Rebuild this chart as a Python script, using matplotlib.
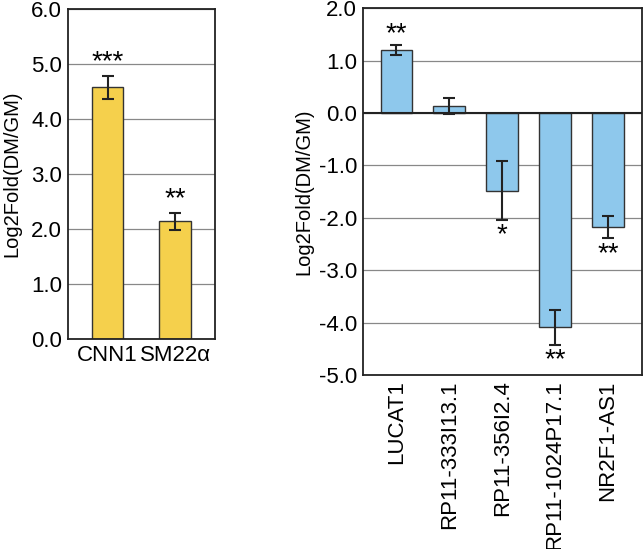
import matplotlib
matplotlib.use("Agg")
import matplotlib.pyplot as plt

plt.rcParams['font.family'] = ['Liberation Sans', 'DejaVu Sans']

# left panel data
left_genes = ['CNN1', 'SM22\u03b1']
left_vals = [4.58, 2.14]
left_err = [0.21, 0.16]
left_stars = ['***', '**']

# right panel data
right_genes = ['LUCAT1', 'RP11-333I13.1', 'RP11-356I2.4', 'RP11-1024P17.1', 'NR2F1-AS1']
right_vals = [1.20, 0.14, -1.48, -4.09, -2.18]
right_err = [0.10, 0.15, 0.56, 0.33, 0.21]
right_stars = ['**', '', '*', '**', '**']

yellow = '#F5D04C'
blue = '#8EC8EC'
edge = '#333333'

fig = plt.figure(figsize=(6.43, 5.49), dpi=100)
ax1 = fig.add_axes([0.1053, 0.3825, 0.229, 0.6005])
ax2 = fig.add_axes([0.564, 0.317, 0.434, 0.668])


def style_axis(ax, ylim, ticks, pad):
    ax.set_ylim(*ylim)
    ax.set_yticks(ticks)
    ax.set_yticklabels([f"{t:.1f}" for t in ticks], fontsize=16)
    ax.yaxis.grid(True, color='#888888', linewidth=0.9)
    ax.set_axisbelow(True)
    ax.tick_params(length=0, pad=4)
    for s in ax.spines.values():
        s.set_color('#222222')
        s.set_linewidth(1.3)
    ax.set_ylabel('Log2Fold(DM/GM)', fontsize=14.5, labelpad=pad)


# left
x1 = range(len(left_genes))
ax1.bar(x1, left_vals, width=0.47, color=yellow, edgecolor=edge, linewidth=1.0,
        yerr=left_err, error_kw=dict(ecolor='#222222', elinewidth=1.5, capsize=4, capthick=1.5))
style_axis(ax1, (0, 6), [0, 1, 2, 3, 4, 5, 6], 7)
ax1.set_xlim(-0.59, 1.59)
ax1.set_xticks(list(x1))
ax1.set_xticklabels(left_genes, fontsize=16)
for i, (v, e, s) in enumerate(zip(left_vals, left_err, left_stars)):
    ax1.text(i, v + e + 0.25, s, ha='center', va='center', fontsize=20)

# right
x2 = range(len(right_genes))
ax2.bar(x2, right_vals, width=0.6, color=blue, edgecolor=edge, linewidth=1.0,
        yerr=right_err, error_kw=dict(ecolor='#222222', elinewidth=1.5, capsize=4, capthick=1.5))
style_axis(ax2, (-5, 2), [-5, -4, -3, -2, -1, 0, 1, 2], 4)
ax2.axhline(0, color='#222222', linewidth=1.5, zorder=3)
ax2.set_xlim(-0.64, 4.64)
ax2.set_xticks(list(x2))
ax2.set_xticklabels(right_genes, fontsize=16, rotation=90)
for i, (v, e, s) in enumerate(zip(right_vals, right_err, right_stars)):
    if not s:
        continue
    if v > 0:
        ax2.text(i, v + e + 0.2, s, ha='center', va='center', fontsize=20)
    else:
        ax2.text(i, v - e - 0.3, s, ha='center', va='center', fontsize=20)

fig.savefig('out.png', dpi=100)
